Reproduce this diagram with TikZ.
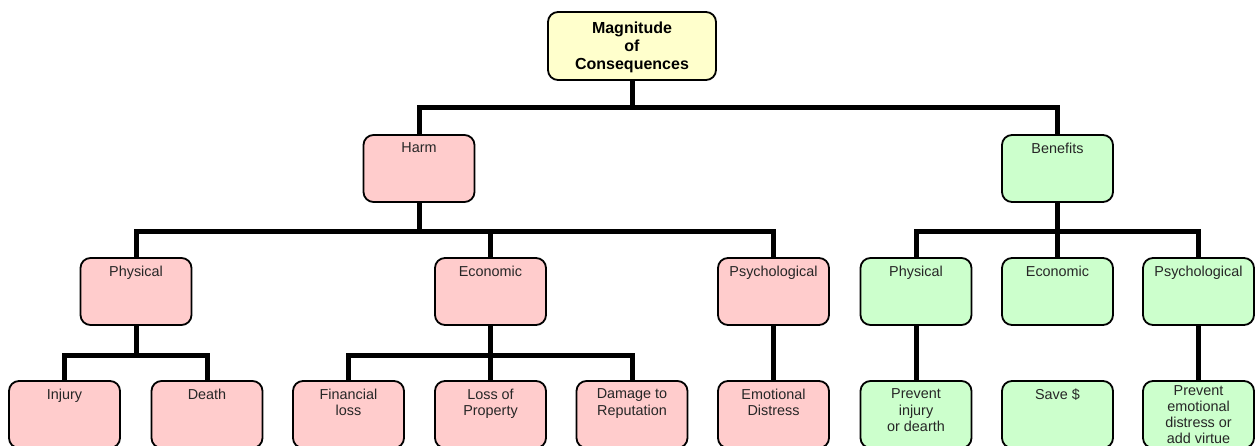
\documentclass[tikz,border=0pt]{standalone}
\usepackage{fontspec}
\setmainfont{Liberation Sans}
\usetikzlibrary{backgrounds}
\definecolor{harmc}{RGB}{255,204,204}
\definecolor{benc}{RGB}{204,255,204}
\definecolor{topc}{RGB}{255,255,204}
\begin{document}
\begin{tikzpicture}[x=1pt,y=-1pt,
  box/.style={draw=black, line width=1.8pt, rounded corners=10pt, minimum width=111pt, minimum height=67pt, inner sep=0pt},
  harmbox/.style={box, fill=harmc},
  benbox/.style={box, fill=benc},
  topbox/.style={box, fill=topc, minimum width=168pt, minimum height=68pt},
  lab/.style={anchor=north, inner sep=0pt, yshift=-8.6pt, align=center, font=\fontsize{14.4}{16.2}\selectfont, text=black!85},
  toplab/.style={lab, yshift=-2.5pt, font=\bfseries\fontsize{16}{18}\selectfont, text=black},
  conn/.style={line width=5pt, line join=miter}]
\useasboundingbox (0,0) rectangle (1255,446);
% level 1
\node[topbox, label={[toplab]north:{Magnitude\\of\\Consequences}}] (top) at (632,46) {};
% level 2
\node[harmbox, label={[lab]north:Harm}] (harm) at (419,168.5) {};
\node[benbox, label={[lab]north:Benefits}] (ben) at (1057.5,168.5) {};
% level 3
\node[harmbox, label={[lab]north:Physical}] (hphys) at (136,291.5) {};
\node[harmbox, label={[lab]north:Economic}] (hecon) at (490.5,291.5) {};
\node[harmbox, label={[lab]north:Psychological}] (hpsy) at (773.5,291.5) {};
\node[benbox, label={[lab]north:Physical}] (bphys) at (916,291.5) {};
\node[benbox, label={[lab]north:Economic}] (becon) at (1057.5,291.5) {};
\node[benbox, label={[lab]north:Psychological}] (bpsy) at (1198.5,291.5) {};
% level 4
\node[harmbox, label={[lab]north:Injury}] (inj) at (64.5,414.5) {};
\node[harmbox, label={[lab]north:Death}] (death) at (207,414.5) {};
\node[harmbox, label={[lab]north:{Financial\\loss}}] (fin) at (348.5,414.5) {};
\node[harmbox, label={[lab]north:{Loss of\\Property}}] (loss) at (490.5,414.5) {};
\node[harmbox, label={[lab]north:{Damage to\\Reputation}}] (dam) at (632,414.5) {};
\node[harmbox, label={[lab]north:{Emotional\\Distress}}] (emo) at (773.5,414.5) {};
\node[benbox, label={[lab]north:{Prevent\\injury\\or dearth}}] (pinj) at (916,414.5) {};
\node[benbox, label={[lab]north:{Save \$}}] (save) at (1057.5,414.5) {};
\node[benbox, label={[lab, yshift=3.6pt]north:{Prevent\\emotional\\distress or\\add virtue}}] (pemo) at (1198.5,414.5) {};
% bar levels
\coordinate (ya) at (0,108);
\coordinate (yb) at (0,232);
\coordinate (yc) at (0,355);
\begin{scope}[on background layer]
\draw[conn] (top.south) -- (top.south |- ya) -| (harm.north);
\draw[conn] (top.south |- ya) -| (ben.north);
\draw[conn] (harm.south) -- (harm.south |- yb);
\draw[conn] (hphys.north) |- (hpsy.north |- yb) -- (hpsy.north);
\draw[conn] (hecon.north) -- (hecon.north |- yb);
\draw[conn] (ben.south) -- (becon.north);
\draw[conn] (bphys.north) |- (bpsy.north |- yb) -- (bpsy.north);
\draw[conn] (hphys.south) -- (hphys.south |- yc);
\draw[conn] (inj.north) |- (death.north |- yc) -- (death.north);
\draw[conn] (hecon.south) -- (loss.north);
\draw[conn] (fin.north) |- (dam.north |- yc) -- (dam.north);
\draw[conn] (hpsy.south) -- (emo.north);
\draw[conn] (bphys.south) -- (pinj.north);
\draw[conn] (bpsy.south) -- (pemo.north);
\end{scope}
\end{tikzpicture}
\end{document}
